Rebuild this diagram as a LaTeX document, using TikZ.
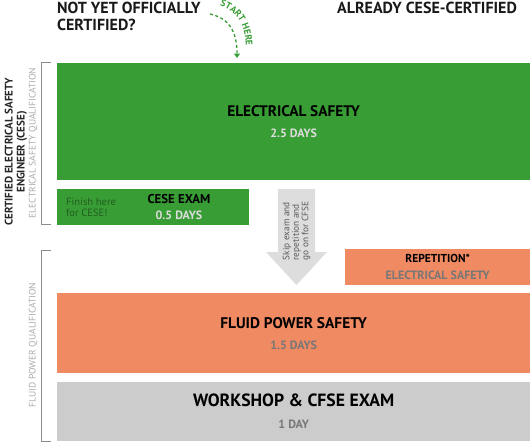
\documentclass[tikz,border=0pt]{standalone}
\usepackage{fontspec}
\setmainfont{PT Sans}
\usetikzlibrary{positioning, arrows.meta, decorations.text}
\definecolor{cgreen}{HTML}{399D35}
\definecolor{corange}{HTML}{F08A62}
\definecolor{cgrey}{HTML}{CCCCCC}
\definecolor{carrow}{HTML}{DDDDDD}
\definecolor{cdays}{HTML}{777777}
\definecolor{clight}{HTML}{DCDCDC}
\definecolor{cfinish}{HTML}{225E1F}
\definecolor{cbracket}{HTML}{8C8C8C}
\definecolor{cqual}{HTML}{AAAAAA}
\tikzstyle{stage} = [rectangle, anchor=north west, inner sep=0pt, align=center, text=black]
\tikzstyle{header} = [inner sep=0pt, text=black!90, font=\fontsize{16}{16.5}\selectfont\bfseries]
\tikzstyle{qual} = [rotate=90, inner sep=0pt, text=cqual, font=\fontsize{9.5}{11}\selectfont]
\tikzstyle{bracket} = [draw=cbracket, line width=0.8pt]
\tikzstyle{startarrow} = [draw=cgreen, line width=1.3pt, dash pattern=on 3pt off 2.5pt, -{Triangle[width=6pt,length=4.5pt]}]

\begin{document}
\begin{tikzpicture}[x=1pt, y=-1pt]
    \useasboundingbox (0,0) rectangle (530,442);

    % Headers
    \node (notyet) [header, anchor=north west, align=left] at (57,2) {NOT YET OFFICIALLY\\CERTIFIED?};
    \node (already) [header, anchor=north] at (427,2) {ALREADY CESE-CERTIFIED};

    % Start here
    \coordinate (startfrom) at (210,14);
    \coordinate (startto) at (237,58);
    \draw [startarrow] (startfrom) .. controls (228,18) and (237,30) .. (startto);
    \path [decorate, decoration={text along path, text color=cgreen, text align=center,
        text={|\fontsize{9.5}{10}\selectfont\bfseries|START HERE}}]
        (212,4) .. controls (237,8) and (247,25) .. (246,54);

    % Electrical safety
    \node (elec) [stage, fill=cgreen, minimum width=473pt, minimum height=117pt,
        font=\fontsize{15.3}{21}\selectfont\bfseries] at (57,63)
        {ELECTRICAL SAFETY\\{\fontsize{12}{13}\selectfont\color{clight}2.5 DAYS}};

    % CESE exam
    \node (exam) [stage, fill=cgreen, minimum width=192pt, minimum height=36pt] at (57,189) {};
    \node (examtext) [align=center, inner sep=0pt, font=\fontsize{12.8}{16}\selectfont\bfseries] at (179,207)
        {CESE EXAM\\{\fontsize{12}{13}\selectfont\color{clight}0.5 DAYS}};
    \node (finish) [anchor=west, align=left, inner sep=0pt, text=cfinish,
        font=\fontsize{10.5}{11}\selectfont] at (66,207) {Finish here\\for CESE!};

    % Skip arrow
    \fill [carrow] (278,189) -- (315,189) -- (315,252) -- (327,252) -- (296.5,285)
        -- (266,252) -- (278,252) -- cycle;
    \node (skip) [rotate=90, align=left, inner sep=0pt, text=black!65,
        font=\fontsize{9.3}{9.5}\selectfont] at (296.5,231) {Skip exam and\\repetition and\\go on for CFSE};

    % Repetition
    \node (rep) [stage, fill=corange, minimum width=185pt, minimum height=36pt,
        font=\fontsize{12}{17}\selectfont\bfseries] at (345,249)
        {{\fontsize{11.5}{13}\selectfont REPETITION*}\\{\color{cdays}ELECTRICAL SAFETY}};

    % Fluid power safety
    \node (fluid) [stage, fill=corange, minimum width=473pt, minimum height=80pt,
        font=\fontsize{15.4}{21}\selectfont\bfseries] at (57,293)
        {FLUID POWER SAFETY\\{\fontsize{12}{13}\selectfont\color{cdays}1.5 DAYS}};

    % Workshop
    \node (workshop) [stage, fill=cgrey, minimum width=473pt, minimum height=59pt,
        font=\fontsize{17.7}{22}\selectfont\bfseries] at (57,382)
        {WORKSHOP \& CFSE EXAM\\{\fontsize{12}{13}\selectfont\color{cdays}1 DAY}};

    % Brackets
    \draw [bracket] (51,62) -| (41,224) -- (51,224);
    \draw [bracket] (51,250) -| (41,441) -- (51,441);

    % Side labels
    \node (ceselabel) [rotate=90, align=center, inner sep=0pt, text=black!85,
        font=\fontsize{11}{12}\selectfont\bfseries] at (16,152)
        {CERTIFIED ELECTRICAL SAFETY\\ENGINEER (CESE)};
    \node (elecqual) [qual] at (33,143) {ELECTRICAL SAFETY QUALIFICATION};
    \node (fluidqual) [qual] at (33,345) {FLUID POWER QUALIFICATION};
\end{tikzpicture}
\end{document}
